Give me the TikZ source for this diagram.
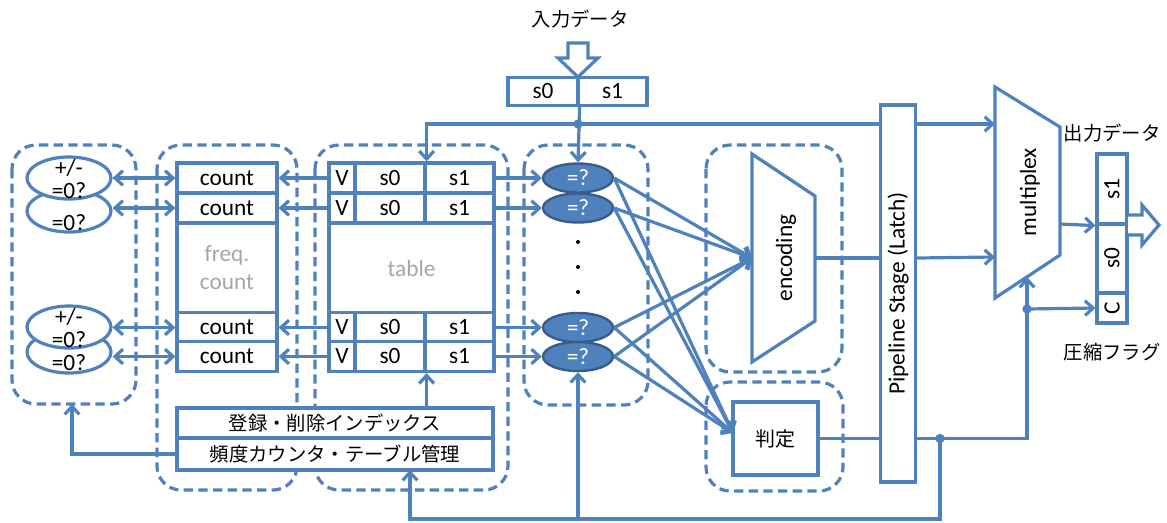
\documentclass[tikz,border=0pt]{standalone}
\usepackage{graphicx}
\usepackage{fontspec}
\setmainfont{Carlito}
\newfontfamily\jp{Noto Sans CJK JP}
\usepackage{tikz}
\usetikzlibrary{arrows.meta}
\usetikzlibrary{shapes.geometric}
\definecolor{lb}{RGB}{79,129,189}
\definecolor{db}{RGB}{56,93,138}
\definecolor{lgray}{RGB}{166,166,166}

\begin{document}
\begin{tikzpicture}[x=0.75pt, y=-0.75pt,
        every node/.style={font=\fontsize{17.5}{17}\selectfont},
        cell/.style={draw=lb, line width=2.4pt, fill=white, inner sep=0pt},
        grp/.style={draw=lb, line width=2.4pt, dash pattern=on 7pt off 4pt, rounded corners=18pt},
        wire/.style={draw=lb, line width=2.4pt},
        arr/.style={wire, -{Straight Barb[length=6pt,width=11pt]}},
        dbl/.style={wire, {Straight Barb[length=6pt,width=11pt]}-{Straight Barb[length=6pt,width=11pt]}},
        pm/.style={ellipse, draw=lb, line width=2.4pt, fill=white, inner sep=0pt, minimum width=63pt, minimum height=31.5pt},
        cmp/.style={ellipse, draw=db, line width=1.8pt, fill=lb, text=white, inner sep=0pt, minimum width=52.5pt, minimum height=21.75pt},
        jtext/.style={font=\jp\fontsize{14.5}{16}\selectfont}]
        \useasboundingbox (0,0) rectangle (1167,522);

        \draw[grp] (12,145) rectangle (136,404);
        \draw[grp] (157,145) rectangle (297,490);
        \draw[grp] (315,145) rectangle (508,490);
        \draw[grp] (524,145) rectangle (648,405);
        \draw[grp] (706,145) rectangle (842,372);
        \draw[grp] (706,382) rectangle (843,491);

        \node[jtext] (inlbl) at (580,19) {入力データ};
        \draw[wire, fill=white] (568,43) -- (588,43) -- (588,58) -- (598,58) -- (578,77) -- (558,58) -- (568,58) -- cycle;
        \node[cell, minimum width=52.5pt, minimum height=21pt] (in0) at (543,91.5) {s0};
        \node[cell, minimum width=51.75pt, minimum height=21pt] (in1) at (612.5,91.5) {s1};

        \node[pm] (pm2) at (69,211) {};
        \node (pmt2) at (69,223) {=0?};
        \node[pm] (pm1) at (69,178) {};
        \node[align=center] (pmt1) at (69,179) {+/-\\=0?};
        \node[pm] (pm4) at (69,352) {};
        \node (pmt4) at (69,363) {=0?};
        \node[pm] (pm3) at (69,327) {};
        \node[align=center] (pmt3) at (69,328) {+/-\\=0?};

        \node[cell, minimum width=75pt, minimum height=22.5pt] (cnt1) at (227,178) {count};
        \node[cell, minimum width=75pt, minimum height=22.5pt] (cnt2) at (227,208) {count};
        \node[cell, minimum width=75pt, minimum height=67.5pt, text=lgray, align=center, font=\fontsize{17.5}{21}\selectfont] (freq) at (227,268) {freq.\\count};
        \node[cell, minimum width=75pt, minimum height=22.5pt] (cnt3) at (227,327.5) {count};
        \node[cell, minimum width=75pt, minimum height=22.5pt] (cnt4) at (227,356.5) {count};

        \node[cell, minimum width=19.5pt, minimum height=22.5pt] (tv1) at (342,178) {V};
        \node[cell, minimum width=52.5pt, minimum height=22.5pt] (ts01) at (390,178) {s0};
        \node[cell, minimum width=51.75pt, minimum height=22.5pt] (ts11) at (459.5,178) {s1};
        \node[cell, minimum width=19.5pt, minimum height=22.5pt] (tv2) at (342,208) {V};
        \node[cell, minimum width=52.5pt, minimum height=22.5pt] (ts02) at (390,208) {s0};
        \node[cell, minimum width=51.75pt, minimum height=22.5pt] (ts12) at (459.5,208) {s1};
        \node[cell, minimum width=123.75pt, minimum height=67.5pt, text=lgray] (tab) at (411.5,268) {table};
        \node[cell, minimum width=19.5pt, minimum height=22.5pt] (tv3) at (342,327.5) {V};
        \node[cell, minimum width=52.5pt, minimum height=22.5pt] (ts03) at (390,327.5) {s0};
        \node[cell, minimum width=51.75pt, minimum height=22.5pt] (ts13) at (459.5,327.5) {s1};
        \node[cell, minimum width=19.5pt, minimum height=22.5pt] (tv4) at (342,356.5) {V};
        \node[cell, minimum width=52.5pt, minimum height=22.5pt] (ts04) at (390,356.5) {s0};
        \node[cell, minimum width=51.75pt, minimum height=22.5pt] (ts14) at (459.5,356.5) {s1};

        \node[cell, jtext, minimum width=237pt, minimum height=22.5pt] (idx1) at (335,423) {登録・削除インデックス};
        \node[cell, jtext, minimum width=237pt, minimum height=24pt] (idx2) at (335,454) {頻度カウンタ・テーブル管理};

        \node[cmp] (cmp1) at (578,178) {=?};
        \node[cmp] (cmp2) at (578,208) {=?};
        \node[cmp] (cmp3) at (578,327.5) {=?};
        \node[cmp] (cmp4) at (578,356.5) {=?};
        \fill (578,242) circle (1.5pt);
        \fill (578,267) circle (1.5pt);
        \fill (578,292) circle (1.5pt);

        \draw[wire] (752,154) -- (815,196) -- (815,321) -- (752,362) -- cycle;
        \node (enc) at (786,258) {\rotatebox{90}{encoding}};
        \coordinate (encin) at (752,258);
        \coordinate (encout) at (815,258);

        \node[cell, jtext, font=\jp\fontsize{15}{16}\selectfont, minimum width=63.75pt, minimum height=54.75pt] (judge) at (775.5,438.5) {判定};
        \coordinate (judin) at (733,433);

        \node[cell, minimum width=26.25pt, minimum height=282.75pt] (pipe) at (898,293.5) {\rotatebox{90}{Pipeline Stage (Latch)}};

        \draw[wire] (995,87) -- (1060,127) -- (1060,255) -- (995,298) -- cycle;
        \node (mux) at (1030,192) {\rotatebox{90}{multiplex}};
        \coordinate (muxin1) at (995,124);
        \coordinate (muxin2) at (995,257);
        \coordinate (muxout) at (1060,224);
        \coordinate (muxbot) at (1027,277);

        \node[jtext] (outlbl) at (1112,133) {出力データ};
        \node[cell, minimum width=22.5pt, minimum height=52.5pt] (outs1) at (1112,189) {\rotatebox{90}{s1}};
        \node[cell, minimum width=22.5pt, minimum height=51.75pt] (outs0) at (1112,258.5) {\rotatebox{90}{s0}};
        \node[cell, minimum width=22.5pt, minimum height=22.5pt] (outc) at (1112,308) {\rotatebox{90}{C}};
        \draw[wire, fill=white] (1128,215) -- (1142,215) -- (1142,205) -- (1159,225) -- (1142,245) -- (1142,235) -- (1128,235);
        \node[jtext] (flaglbl) at (1112,352) {圧縮フラグ};

        \coordinate (tdot) at (578,124);
        \coordinate (jdot) at (940,438.5);
        \coordinate (fdot) at (1027,309);
        \coordinate (bot) at (578,519);
        \coordinate (idxin) at (410,470);
        \coordinate (lgin) at (72,404);

        \draw[dbl] (pm1.east |- cnt1) -- (cnt1.west);
        \draw[dbl] (pm2.east |- cnt2) -- (cnt2.west);
        \draw[dbl] (pm3.east |- cnt3) -- (cnt3.west);
        \draw[dbl] (pm4.east |- cnt4) -- (cnt4.west);
        \draw[arr] (tv1.west) -- (cnt1.east);
        \draw[arr] (tv2.west) -- (cnt2.east);
        \draw[arr] (tv3.west) -- (cnt3.east);
        \draw[arr] (tv4.west) -- (cnt4.east);
        \draw[arr] (ts11.east) -- (cmp1.west);
        \draw[arr] (ts12.east) -- (cmp2.west);
        \draw[arr] (ts13.east) -- (cmp3.west);
        \draw[arr] (ts14.east) -- (cmp4.west);

        \draw[arr] (cmp1.east) -- (encin);
        \draw[arr] (cmp2.east) -- (encin);
        \draw[arr] (cmp3.east) -- (encin);
        \draw[arr] (cmp4.east) -- (encin);
        \draw[arr] (cmp1.east) -- (judin);
        \draw[arr] (cmp2.east) -- (judin);
        \draw[arr] (cmp3.east) -- (judin);
        \draw[arr] (cmp4.east) -- (judin);

        \draw[arr] (in0.south east) -- (cmp1.north);
        \draw[arr] (pipe.west |- tdot) -| (ts01.north east);
        \draw[arr] (pipe.east |- tdot) -- (muxin1);
        \fill[lb] (tdot) circle (3.5pt);

        \draw[wire] (encout) -- (pipe.west |- encout);
        \draw[arr] (pipe.east |- encout) -- (muxin2);
        \draw[arr] (muxout) -- (outs1.south west);

        \draw[wire] (judge.east) -- (pipe.west |- judge.east);
        \draw[arr] (pipe.east |- judge.east) -| (muxbot);
        \draw[arr] (fdot) -- (outc.west);
        \fill[lb] (fdot) circle (3.5pt);
        \draw[arr] (jdot) |- (bot) -| (idxin);
        \draw[arr] (bot) -- (cmp4.south);
        \fill[lb] (jdot) circle (3.5pt);

        \draw[arr] (idx1.north -| ts04.south east) -- (ts04.south east);
        \draw[arr] (idx2.west) -| (lgin);
    \end{tikzpicture}
\end{document}
